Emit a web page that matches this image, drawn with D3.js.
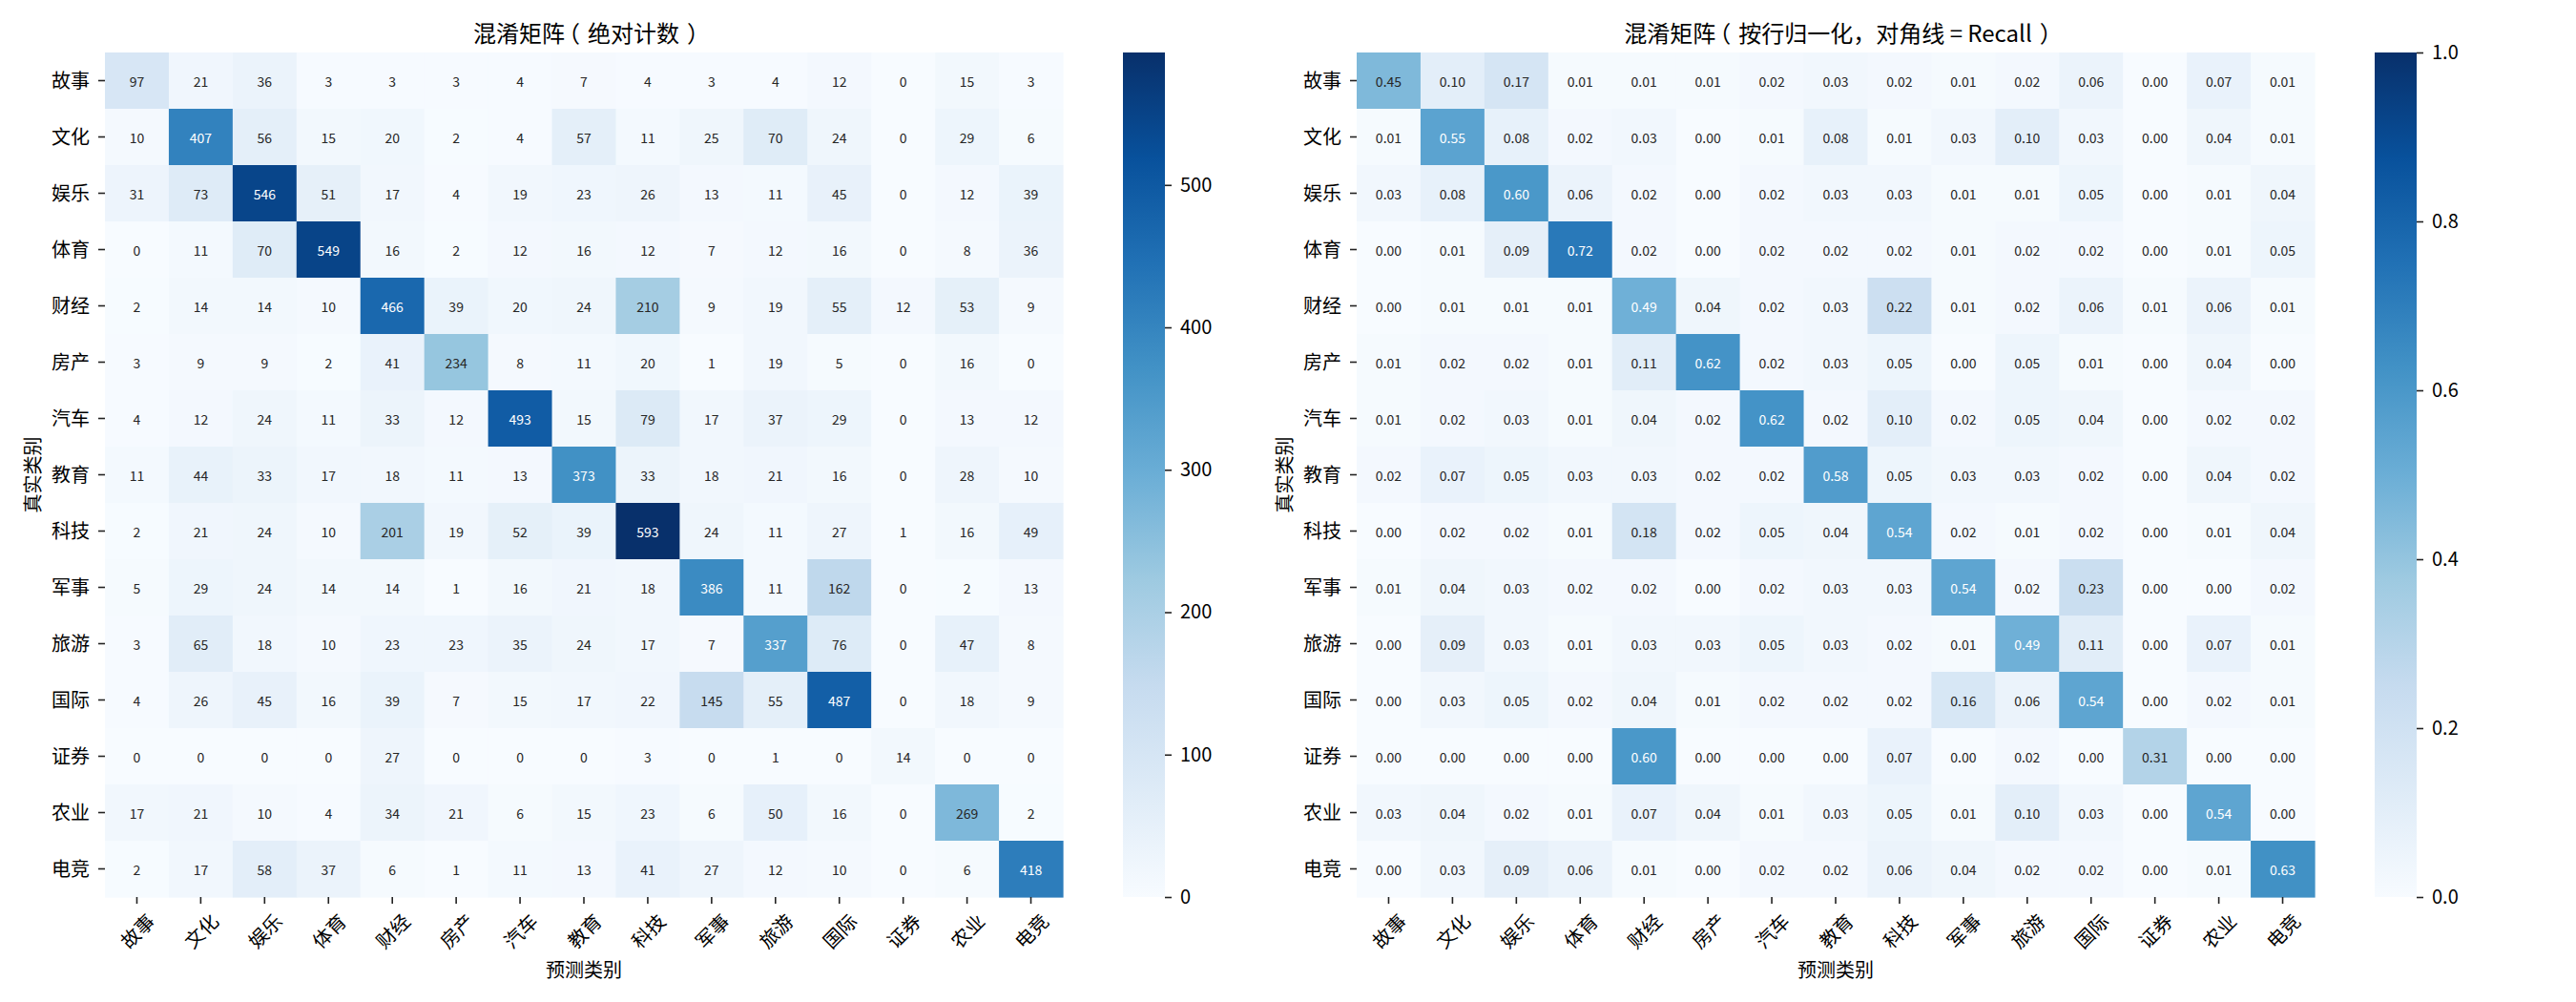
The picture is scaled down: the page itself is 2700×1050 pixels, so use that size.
<!DOCTYPE html>
<html>
<head>
<meta charset="utf-8">
<script src="https://cdn.jsdelivr.net/npm/d3@7"></script>
<style>
  body { margin: 0; background: #fff; }
  svg text { font-family: "Noto Sans CJK SC", "Noto Sans", sans-serif; }
  .half { font-feature-settings: "halt" 1; }
</style>
</head>
<body>
<div id="chart"></div>
<script>
const categories = ['故事', '文化', '娱乐', '体育', '财经', '房产', '汽车', '教育', '科技', '军事', '旅游', '国际', '证券', '农业', '电竞'];

// rows = true class, columns = predicted class
const countMatrix = [
  [97, 21, 36, 3, 3, 3, 4, 7, 4, 3, 4, 12, 0, 15, 3],
  [10, 407, 56, 15, 20, 2, 4, 57, 11, 25, 70, 24, 0, 29, 6],
  [31, 73, 546, 51, 17, 4, 19, 23, 26, 13, 11, 45, 0, 12, 39],
  [0, 11, 70, 549, 16, 2, 12, 16, 12, 7, 12, 16, 0, 8, 36],
  [2, 14, 14, 10, 466, 39, 20, 24, 210, 9, 19, 55, 12, 53, 9],
  [3, 9, 9, 2, 41, 234, 8, 11, 20, 1, 19, 5, 0, 16, 0],
  [4, 12, 24, 11, 33, 12, 493, 15, 79, 17, 37, 29, 0, 13, 12],
  [11, 44, 33, 17, 18, 11, 13, 373, 33, 18, 21, 16, 0, 28, 10],
  [2, 21, 24, 10, 201, 19, 52, 39, 593, 24, 11, 27, 1, 16, 49],
  [5, 29, 24, 14, 14, 1, 16, 21, 18, 386, 11, 162, 0, 2, 13],
  [3, 65, 18, 10, 23, 23, 35, 24, 17, 7, 337, 76, 0, 47, 8],
  [4, 26, 45, 16, 39, 7, 15, 17, 22, 145, 55, 487, 0, 18, 9],
  [0, 0, 0, 0, 27, 0, 0, 0, 3, 0, 1, 0, 14, 0, 0],
  [17, 21, 10, 4, 34, 21, 6, 15, 23, 6, 50, 16, 0, 269, 2],
  [2, 17, 58, 37, 6, 1, 11, 13, 41, 27, 12, 10, 0, 6, 418]
];

const recallMatrix = [
  [0.45, 0.10, 0.17, 0.01, 0.01, 0.01, 0.02, 0.03, 0.02, 0.01, 0.02, 0.06, 0.00, 0.07, 0.01],
  [0.01, 0.55, 0.08, 0.02, 0.03, 0.00, 0.01, 0.08, 0.01, 0.03, 0.10, 0.03, 0.00, 0.04, 0.01],
  [0.03, 0.08, 0.60, 0.06, 0.02, 0.00, 0.02, 0.03, 0.03, 0.01, 0.01, 0.05, 0.00, 0.01, 0.04],
  [0.00, 0.01, 0.09, 0.72, 0.02, 0.00, 0.02, 0.02, 0.02, 0.01, 0.02, 0.02, 0.00, 0.01, 0.05],
  [0.00, 0.01, 0.01, 0.01, 0.49, 0.04, 0.02, 0.03, 0.22, 0.01, 0.02, 0.06, 0.01, 0.06, 0.01],
  [0.01, 0.02, 0.02, 0.01, 0.11, 0.62, 0.02, 0.03, 0.05, 0.00, 0.05, 0.01, 0.00, 0.04, 0.00],
  [0.01, 0.02, 0.03, 0.01, 0.04, 0.02, 0.62, 0.02, 0.10, 0.02, 0.05, 0.04, 0.00, 0.02, 0.02],
  [0.02, 0.07, 0.05, 0.03, 0.03, 0.02, 0.02, 0.58, 0.05, 0.03, 0.03, 0.02, 0.00, 0.04, 0.02],
  [0.00, 0.02, 0.02, 0.01, 0.18, 0.02, 0.05, 0.04, 0.54, 0.02, 0.01, 0.02, 0.00, 0.01, 0.04],
  [0.01, 0.04, 0.03, 0.02, 0.02, 0.00, 0.02, 0.03, 0.03, 0.54, 0.02, 0.23, 0.00, 0.00, 0.02],
  [0.00, 0.09, 0.03, 0.01, 0.03, 0.03, 0.05, 0.03, 0.02, 0.01, 0.49, 0.11, 0.00, 0.07, 0.01],
  [0.00, 0.03, 0.05, 0.02, 0.04, 0.01, 0.02, 0.02, 0.02, 0.16, 0.06, 0.54, 0.00, 0.02, 0.01],
  [0.00, 0.00, 0.00, 0.00, 0.60, 0.00, 0.00, 0.00, 0.07, 0.00, 0.02, 0.00, 0.31, 0.00, 0.00],
  [0.03, 0.04, 0.02, 0.01, 0.07, 0.04, 0.01, 0.03, 0.05, 0.01, 0.10, 0.03, 0.00, 0.54, 0.00],
  [0.00, 0.03, 0.09, 0.06, 0.01, 0.00, 0.02, 0.02, 0.06, 0.04, 0.02, 0.02, 0.00, 0.01, 0.63]
];

const countTicks = [0, 100, 200, 300, 400, 500];
const recallTicks = [0, 0.2, 0.4, 0.6, 0.8, 1.0];

// matplotlib "Blues"
const bluesStops = ['#f7fbff', '#deebf7', '#c6dbef', '#9ecae1', '#6baed6', '#4292c6', '#2171b5', '#08519c', '#08306b'];

class ConfusionHeatmap {
  constructor(_config, _data) {
    this.config = {
      svg: _config.svg,
      left: _config.left,
      top: _config.top || 55,
      width: _config.width || 1004,
      height: _config.height || 885,
      title: _config.title,
      vmax: _config.vmax,
      ticks: _config.ticks,
      tickFormat: _config.tickFormat,
      annotFormat: _config.annotFormat,
      id: _config.id,
      cbGap: 63,
      cbWidth: 44
    };
    this.data = _data;
    this.initVis();
  }

  initVis() {
    let vis = this;

    vis.chart = vis.config.svg.append('g')
      .attr('transform', `translate(${vis.config.left},${vis.config.top})`);

    vis.x = d3.scaleBand().domain(categories).range([0, vis.config.width]);
    vis.y = d3.scaleBand().domain(categories).range([0, vis.config.height]);

    vis.colorScale = d3.scaleLinear()
      .domain(bluesStops.map((c, i) => i / (bluesStops.length - 1) * vis.config.vmax))
      .range(bluesStops)
      .interpolate(d3.interpolateRgb)
      .clamp(true);

    vis.cellGroup = vis.chart.append('g');
    vis.xAxisG = vis.chart.append('g').attr('transform', `translate(0,${vis.config.height})`);
    vis.yAxisG = vis.chart.append('g');

    // colorbar
    vis.gradient = vis.config.svg.append('defs').append('linearGradient')
      .attr('id', `grad-${vis.config.id}`)
      .attr('x1', 0).attr('y1', 1).attr('x2', 0).attr('y2', 0);

    vis.colorbar = vis.chart.append('g')
      .attr('transform', `translate(${vis.config.width + vis.config.cbGap},0)`);

    vis.cbScale = d3.scaleLinear().domain([0, vis.config.vmax]).range([vis.config.height, 0]);

    // title: brackets set half-width and spaced out, closer to matplotlib's look
    const title = vis.chart.append('text')
      .attr('x', vis.config.width / 2 + 2)
      .attr('y', -22)
      .attr('text-anchor', 'middle')
      .attr('dominant-baseline', 'central')
      .attr('font-size', 24)
      .attr('fill', '#000');
    const parts = vis.config.title.split(/([（）])/).filter(s => s.length);
    let carry = 0;
    parts.forEach(p => {
      let dx = carry;
      carry = 0;
      const isBracket = p === '（' || p === '）';
      if (p === '（') { dx += 4; carry = 8; }
      if (p === '）') { dx += 8; carry = 4; }
      title.append('tspan')
        .attr('class', isBracket ? 'half' : null)
        .attr('dx', dx || null)
        .text(p);
    });

    vis.chart.append('text')
      .attr('x', vis.config.width / 2)
      .attr('y', 960)
      .attr('text-anchor', 'middle')
      .attr('dominant-baseline', 'central')
      .attr('font-size', 20)
      .attr('fill', '#000')
      .text('预测类别');

    vis.chart.append('text')
      .attr('transform', `translate(-77,${vis.config.height / 2}) rotate(-90)`)
      .attr('text-anchor', 'middle')
      .attr('dominant-baseline', 'central')
      .attr('font-size', 20)
      .attr('fill', '#000')
      .text('真实类别');

    vis.updateVis();
  }

  updateVis() {
    let vis = this;
    vis.cells = vis.data.flatMap((row, i) => row.map((v, j) => ({
      row: categories[i], col: categories[j], value: v
    })));
    vis.renderVis();
  }

  // seaborn picks white text on dark cells
  textColor(fill) {
    const c = d3.rgb(fill);
    const lin = v => { v /= 255; return v <= 0.03928 ? v / 12.92 : Math.pow((v + 0.055) / 1.055, 2.4); };
    const lum = 0.2126 * lin(c.r) + 0.7152 * lin(c.g) + 0.0722 * lin(c.b);
    return lum > 0.408 ? '#262626' : '#ffffff';
  }

  renderVis() {
    let vis = this;

    vis.cellGroup.selectAll('.cell')
      .data(vis.cells)
      .join('rect')
      .attr('class', 'cell')
      .attr('x', d => vis.x(d.col))
      .attr('y', d => vis.y(d.row))
      .attr('width', vis.x.bandwidth() + 0.6)
      .attr('height', vis.y.bandwidth() + 0.6)
      .attr('fill', d => vis.colorScale(d.value));

    vis.cellGroup.selectAll('.annot')
      .data(vis.cells)
      .join('text')
      .attr('class', 'annot')
      .attr('x', d => vis.x(d.col) + vis.x.bandwidth() / 2)
      .attr('y', d => vis.y(d.row) + vis.y.bandwidth() / 2)
      .attr('text-anchor', 'middle')
      .attr('dominant-baseline', 'central')
      .attr('font-size', 14)
      .attr('fill', d => vis.textColor(vis.colorScale(d.value)))
      .text(d => vis.config.annotFormat(d.value));

    vis.yAxisG.call(d3.axisLeft(vis.y).tickSize(7).tickPadding(9));
    vis.yAxisG.select('.domain').remove();
    vis.yAxisG.selectAll('text').attr('font-size', 20).attr('fill', '#000').attr('dy', '0.36em');

    vis.xAxisG.call(d3.axisBottom(vis.x).tickSize(7).tickPadding(0));
    vis.xAxisG.select('.domain').remove();
    vis.xAxisG.selectAll('text')
      .attr('font-size', 20)
      .attr('fill', '#000')
      .attr('y', null)
      .attr('dy', null)
      .attr('dominant-baseline', 'central')
      .attr('text-anchor', 'middle')
      .attr('transform', 'translate(0,35) rotate(-45)');

    [vis.xAxisG, vis.yAxisG].forEach(g => g.selectAll('line').attr('stroke', '#222').attr('stroke-width', 1.6));

    vis.gradient.selectAll('stop')
      .data(bluesStops)
      .join('stop')
      .attr('offset', (d, i) => (i / (bluesStops.length - 1) * 100) + '%')
      .attr('stop-color', d => d);

    vis.colorbar.selectAll('.cb-rect')
      .data([0])
      .join('rect')
      .attr('class', 'cb-rect')
      .attr('width', vis.config.cbWidth)
      .attr('height', vis.config.height)
      .attr('fill', `url(#grad-${vis.config.id})`);

    const cbAxis = vis.colorbar.selectAll('.cb-axis')
      .data([0])
      .join('g')
      .attr('class', 'cb-axis')
      .attr('transform', `translate(${vis.config.cbWidth},0)`)
      .call(d3.axisRight(vis.cbScale).tickValues(vis.config.ticks).tickFormat(vis.config.tickFormat).tickSize(7).tickPadding(9));
    cbAxis.select('.domain').remove();
    cbAxis.selectAll('text').attr('font-size', 20).attr('fill', '#000');
    cbAxis.selectAll('line').attr('stroke', '#222').attr('stroke-width', 1.6);
  }
}

const svg = d3.select('#chart').append('svg')
  .attr('width', 2700)
  .attr('height', 1050);

new ConfusionHeatmap({
  svg: svg,
  id: 'count',
  left: 110,
  title: '混淆矩阵（绝对计数）',
  vmax: 593,
  ticks: countTicks,
  tickFormat: d3.format('d'),
  annotFormat: d3.format('d')
}, countMatrix);

new ConfusionHeatmap({
  svg: svg,
  id: 'recall',
  left: 1422,
  title: '混淆矩阵（按行归一化，对角线 = Recall）',
  vmax: 1,
  ticks: recallTicks,
  tickFormat: d3.format('.1f'),
  annotFormat: d3.format('.2f')
}, recallMatrix);
</script>
</body>
</html>
